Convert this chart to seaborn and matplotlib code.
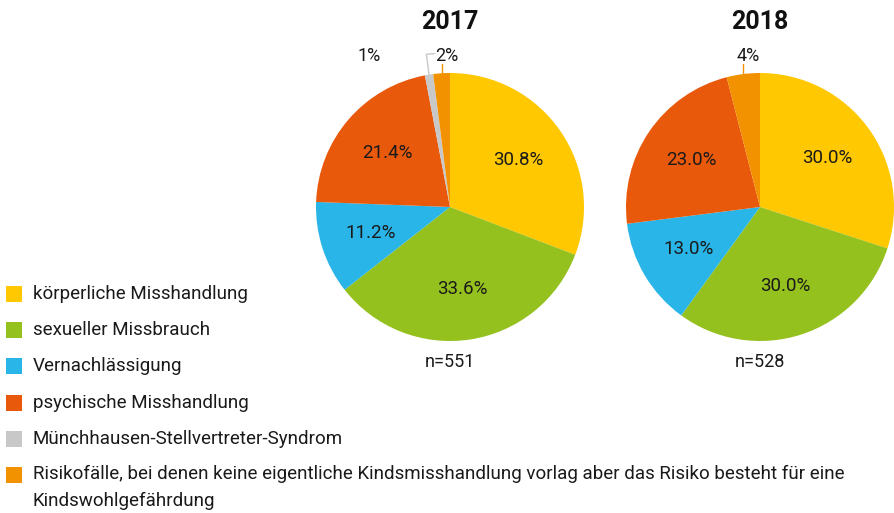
import numpy as np
import seaborn as sns
import matplotlib.pyplot as plt
from matplotlib.patches import Rectangle

sns.set_theme(style="white")
plt.rcParams['font.family'] = ['Roboto', 'DejaVu Sans']

# Daten
kategorien = [
    "körperliche Misshandlung",
    "sexueller Missbrauch",
    "Vernachlässigung",
    "psychische Misshandlung",
    "Münchhausen-Stellvertreter-Syndrom",
    "Risikofälle, bei denen keine eigentliche Kindsmisshandlung vorlag aber das Risiko besteht für eine\nKindswohlgefährdung",
]
jahre = ["2017", "2018"]
anzahl = [551, 528]
werte_2017 = [30.8, 33.6, 11.2, 21.4, 1, 2]
werte_2018 = [30.0, 30.0, 13.0, 23.0, 0, 4]
farben = ["#FFC800", "#95C11F", "#29B5E8", "#E8590C", "#C8C8C8", "#F39200"]

W, H = 894, 513
R = 134          # Pie-Radius in Pixel
K = 1.3          # Achsenlimit in Radien
zentren = [(450, 207), (760, 207)]
textfarbe = "#1a1a1a"

fig = plt.figure(figsize=(W / 100, H / 100), dpi=100)

for jahr, n, werte, (cx, cy) in zip(jahre, anzahl, [werte_2017, werte_2018], zentren):
    seite = 2 * K * R
    ax = fig.add_axes([(cx - K * R) / W, (H - cy - K * R) / H, seite / W, seite / H])
    wedges, _ = ax.pie(werte, colors=farben, startangle=90, counterclock=False,
                       radius=1, wedgeprops=dict(linewidth=0))
    ax.set_xlim(-K, K)
    ax.set_ylim(-K, K)
    ax.set_aspect("equal")
    ax.axis("off")

    for w, v, c in zip(wedges, werte, farben):
        if v == 0:
            continue
        mid = np.deg2rad((w.theta1 + w.theta2) / 2)
        if v >= 5:
            ax.text(0.62 * np.cos(mid), 0.62 * np.sin(mid), f"{v:.1f}%",
                    ha="center", va="center", fontsize=13.5, color=textfarbe)
        else:
            lx = np.cos(mid)
            ly = np.sin(mid)
            if c == "#C8C8C8":
                # Münchhausen: Knick-Linie, Label weiter links
                ax.plot([lx, lx - 0.02, lx + 0.04], [ly, 1.14, 1.145], color=c,
                        lw=1, clip_on=False)
                ax.text(-0.6, 1.13, f"{v:.0f}%", ha="center", va="center",
                        fontsize=13, color=textfarbe, clip_on=False)
            else:
                ax.plot([lx, lx], [ly, 1.07], color=c, lw=1, clip_on=False)
                ax.text(lx + 0.04, 1.13, f"{v:.0f}%", ha="center", va="center",
                        fontsize=13, color=textfarbe, clip_on=False)

    fig.text(cx / W, 1 - 22 / H, jahr, ha="center", va="center",
             fontsize=18, fontweight="bold", color="#111111")
    fig.text(cx / W, 1 - 362 / H, f"n={n}", ha="center", va="center",
             fontsize=13, color=textfarbe)

# Legende
y0, dy = 294, 36.2
for i, (lab, c) in enumerate(zip(kategorien, farben)):
    y = y0 + i * dy
    fig.patches.append(Rectangle((6 / W, 1 - (y + 8) / H), 16 / W, 16 / H,
                                 transform=fig.transFigure, color=c, lw=0))
    if "\n" in lab:
        fig.text(33 / W, 1 - (y - 10) / H, lab, ha="left", va="top",
                 fontsize=13.5, color=textfarbe, linespacing=1.65)
    else:
        fig.text(33 / W, 1 - y / H, lab, ha="left", va="center",
                 fontsize=13.5, color=textfarbe)

fig.savefig("out.png", dpi=100)
